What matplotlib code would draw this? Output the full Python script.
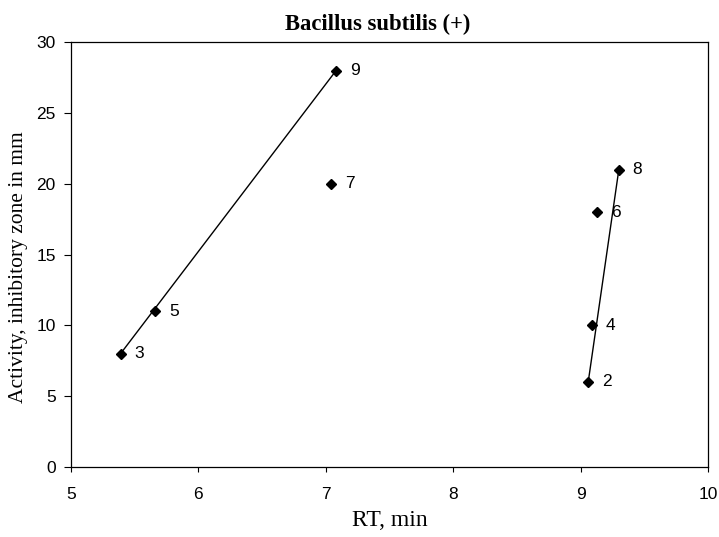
import numpy as np
import matplotlib
matplotlib.use('Agg')
import matplotlib.pyplot as plt

# compounds 2..9, retention time vs. inhibitory zone
compound = ['2', '3', '4', '5', '6', '7', '8', '9']
rt = [9.06, 5.39, 9.09, 5.66, 9.13, 7.04, 9.30, 7.08]
activity = [6, 8, 10, 11, 18, 20, 21, 28]

# the two drawn lines join these compounds
line_a = ['3', '9']
line_b = ['2', '8']

xticks = [5, 6, 7, 8, 9, 10]
yticks = [0, 5, 10, 15, 20, 25, 30]

fig = plt.figure(figsize=(7.19, 5.37), dpi=100)
ax = fig.add_axes([0.0987, 0.1309, 0.886, 0.7901])

for grp in [line_a, line_b]:
    idx = [compound.index(c) for c in grp]
    ax.plot([rt[i] for i in idx], [activity[i] for i in idx], color='black', lw=1.0)

ax.plot(rt, activity, linestyle='none', marker='D', ms=5.2, color='black')

for c, xv, yv in zip(compound, rt, activity):
    ax.annotate(c, (xv, yv), xytext=(10, 0), textcoords='offset points',
                ha='left', va='center', fontsize=12.5, family='Liberation Sans')

ax.set_xlim(5, 10)
ax.set_ylim(0, 30)
ax.set_xticks(xticks)
ax.set_yticks(yticks)
ax.tick_params(axis='x', length=3.6, width=0.8, pad=11, labelsize=12.5)
ax.tick_params(axis='y', length=5.4, width=0.8, pad=5.5, labelsize=12.5)
for lab in ax.get_xticklabels() + ax.get_yticklabels():
    lab.set_family('Liberation Sans')
for s in ax.spines.values():
    s.set_linewidth(0.9)
    s.set_color('black')

ax.set_xlabel('RT, min', family='Liberation Serif', fontsize=17, labelpad=6)
ax.set_ylabel('Activity, inhibitory zone in mm', family='Liberation Serif', fontsize=15.5)
ax.yaxis.set_label_coords(-0.068, 0.47)

fig.text(378 / 719, 1 - 30 / 537, 'Bacillus subtilis (+)', ha='center', va='baseline',
         family='Liberation Serif', fontweight='bold', fontsize=16.3)

plt.savefig('out.png', dpi=100)
